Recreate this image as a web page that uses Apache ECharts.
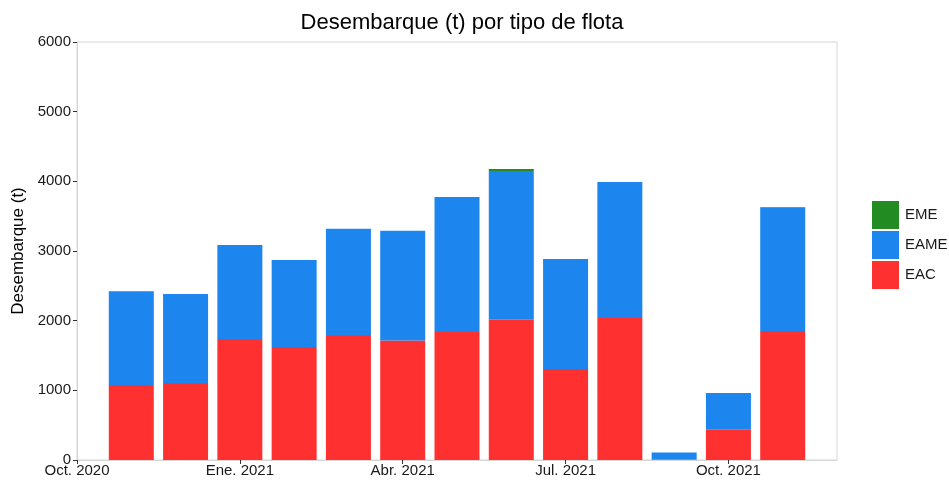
<!DOCTYPE html>
<html>
<head>
<meta charset="utf-8">
<title>Desembarque (t) por tipo de flota</title>
<script src="https://cdn.jsdelivr.net/npm/echarts@6/dist/echarts.min.js"></script>
<style>
  html, body { margin: 0; padding: 0; background: #fff; }
  #viz { width: 949px; height: 482px; }
</style>
</head>
<body>
<div id="viz"></div>
<script>
// Monthly axis Oct. 2020 .. Dic. 2021, bars from Nov. 2020 to Nov. 2021
const months = ['Oct. 2020', 'Nov. 2020', 'Dic. 2020', 'Ene. 2021', 'Feb. 2021', 'Mar. 2021', 'Abr. 2021', 'May. 2021',
                'Jun. 2021', 'Jul. 2021', 'Ago. 2021', 'Sep. 2021', 'Oct. 2021', 'Nov. 2021', 'Dic. 2021'];
const eac  = [null, 1076, 1105, 1736, 1621, 1794, 1717, 1837, 2013, 1306, 2038, 8, 440, 1851, null];
const eame = [null, 1345, 1277, 1349, 1249, 1525, 1574, 1937, 2134, 1578, 1951, 100, 521, 1774, null];
const eme  = [null, 0, 0, 0, 0, 0, 0, 0, 29, 0, 0, 0, 0, 5, null];

const font = '"Liberation Sans", Arial, sans-serif';

var myChart = echarts.init(document.getElementById('viz'));

var option = {
    animation: false,
    textStyle: { fontFamily: font },
    title: {
        text: 'Desembarque (t) por tipo de flota',
        left: 457,
        textAlign: 'center',
        top: 7,
        textStyle: { fontFamily: font, fontSize: 22, fontWeight: 'normal', color: '#000' }
    },
    legend: {
        data: ['EME', 'EAME', 'EAC'],
        orient: 'vertical',
        left: 867,
        top: 196,
        itemWidth: 27,
        itemHeight: 28,
        itemGap: 2,
        icon: 'rect',
        textStyle: { fontFamily: font, fontSize: 15, color: '#1a1a1a', padding: [0, 0, 0, 1] }
    },
    grid: {
        left: 77,
        right: 112,
        top: 42,
        bottom: 22,
        show: true,
        borderColor: '#d6d6d6',
        borderWidth: 1
    },
    xAxis: {
        type: 'category',
        data: months,
        boundaryGap: false,
        splitLine: { show: false },
        axisLine: { lineStyle: { color: '#d6d6d6' } },
        axisTick: { interval: 2, length: 4, lineStyle: { color: '#333' } },
        axisLabel: { interval: 2, margin: 3, fontSize: 15, color: '#1a1a1a' }
    },
    yAxis: {
        type: 'value',
        min: 0,
        max: 6000,
        interval: 1000,
        name: 'Desembarque (t)',
        nameLocation: 'middle',
        nameGap: 44,
        nameTextStyle: { fontFamily: font, fontSize: 17, color: '#000' },
        splitLine: { show: false },
        axisLine: { show: true, lineStyle: { color: '#d6d6d6' } },
        axisTick: { show: true, length: 4, lineStyle: { color: '#333' } },
        axisLabel: { fontSize: 15, color: '#1a1a1a', margin: 6, formatter: v => String(v) }
    },
    series: [
        { name: 'EAC', type: 'bar', stack: 'total', barWidth: 45, data: eac,
          itemStyle: { color: '#FF3030' } },
        { name: 'EAME', type: 'bar', stack: 'total', barWidth: 45, data: eame,
          itemStyle: { color: '#1C86EE' } },
        { name: 'EME', type: 'bar', stack: 'total', barWidth: 45, data: eme,
          itemStyle: { color: '#228B22' } }
    ]
};

myChart.setOption(option);
</script>
</body>
</html>
